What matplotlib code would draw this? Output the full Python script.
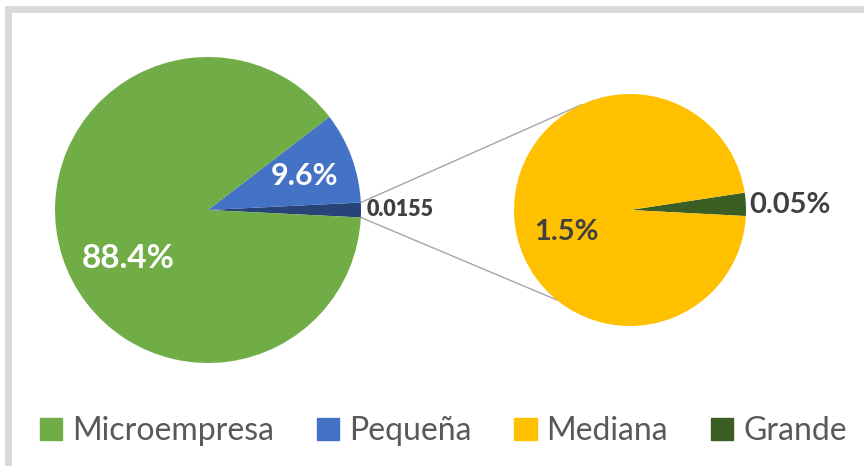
import matplotlib.pyplot as plt
import numpy as np
from matplotlib.lines import Line2D
from matplotlib.patches import Patch

# data
categories = ['Microempresa', 'Pequeña', 'Mediana', 'Grande']
main_values = [1.55, 9.6, 88.4]          # resto (Mediana+Grande), Pequeña, Microempresa
main_labels = ['0.0155', '9.6%', '88.4%']
sub_values = [0.05, 1.5]                 # Grande, Mediana
sub_labels = ['0.05%', '1.5%']

green = '#70AD47'
blue = '#4472C4'
dark_blue = '#264478'
yellow = '#FFC000'
dark_green = '#3B5E25'
text_dark = '#404040'

plt.rcParams['font.family'] = ['Lato', 'DejaVu Sans']

W, H = 864, 466
fig = plt.figure(figsize=(W / 100, H / 100), dpi=100)
ax = fig.add_axes([0, 0, 1, 1])

c1 = (208, H - 210)
r1 = 153
c2 = (630, H - 210)
r2 = 116

w1, _ = ax.pie(main_values, colors=[dark_blue, blue, green], startangle=-2.8,
               counterclock=True, center=c1, radius=r1, frame=True,
               wedgeprops=dict(linewidth=0))
w2, _ = ax.pie(sub_values, colors=[dark_green, yellow], startangle=-3,
               counterclock=True, center=c2, radius=r2, frame=True,
               wedgeprops=dict(linewidth=0))

# connector lines from the small slice to the second pie
a_top = np.radians(w1[0].theta2)
a_bot = np.radians(w1[0].theta1)
b_top = np.radians(114.6)
b_bot = np.radians(230.8)
ax.plot([c1[0] + r1 * np.cos(a_top), c2[0] + r2 * np.cos(b_top)],
        [c1[1] + r1 * np.sin(a_top), c2[1] + r2 * np.sin(b_top)],
        color='#a6a6a6', lw=1, zorder=0)
ax.plot([c1[0] + r1 * np.cos(a_bot), c2[0] + r2 * np.cos(b_bot)],
        [c1[1] + r1 * np.sin(a_bot), c2[1] + r2 * np.sin(b_bot)],
        color='#a6a6a6', lw=1, zorder=0)


def put_label(center, radius, ang, dist, txt, color, size, ha='center', weight='bold'):
    a = np.radians(ang)
    ax.text(center[0] + dist * radius * np.cos(a), center[1] + dist * radius * np.sin(a),
            txt, color=color, fontsize=size, fontweight=weight, ha=ha, va='center')


put_label(c1, r1, 0, 1.04, main_labels[0], text_dark, 15.5, ha='left', weight='heavy')
put_label(c1, r1, 19.3, 0.67, main_labels[1], 'white', 22)
put_label(c1, r1, 211, 0.61, main_labels[2], 'white', 24)
put_label(c2, r2, 2.4, 1.03, sub_labels[0], text_dark, 21, ha='left')
put_label(c2, r2, 199, 0.58, sub_labels[1], text_dark, 21)

ax.set_xlim(0, W)
ax.set_ylim(0, H)
ax.set_aspect('equal')
ax.axis('off')

# chart border (top and left)
fig.add_artist(Line2D([8 / W, 1], [1 - 9 / H, 1 - 9 / H], color='#d9d9d9', lw=5,
                      transform=fig.transFigure))
fig.add_artist(Line2D([8 / W, 8 / W], [0, 1 - 9 / H], color='#d9d9d9', lw=5,
                      transform=fig.transFigure))

handles = [Patch(color=c) for c in [green, blue, yellow, dark_green]]
fig.legend(handles, categories, loc='center', bbox_to_anchor=(0.513, 1 - 431 / H),
           ncol=4, frameon=False, fontsize=23, labelcolor='#595959',
           handlelength=0.7, handleheight=0.7, handletextpad=0.3, columnspacing=1.35)

fig.savefig('out.png', dpi=100, facecolor='white')
